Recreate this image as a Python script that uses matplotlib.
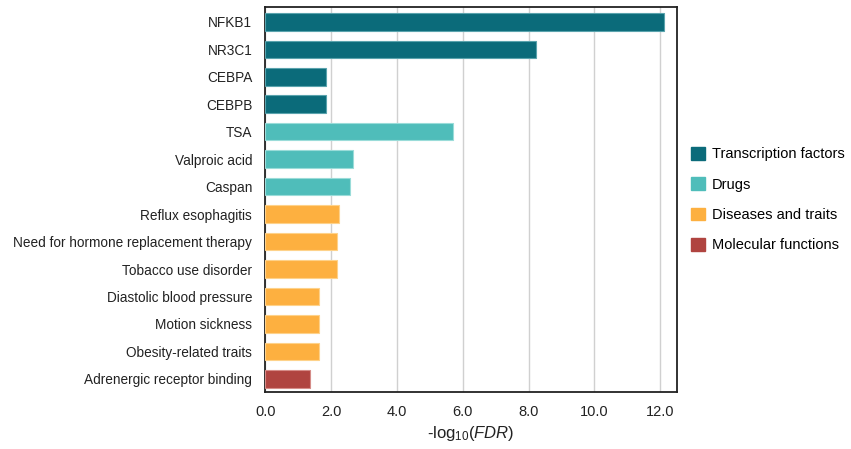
import matplotlib
matplotlib.use('Agg')
import matplotlib.pyplot as plt
from matplotlib.patches import Patch

plt.rcParams['font.family'] = ['Liberation Sans', 'DejaVu Sans']
plt.rcParams['mathtext.fontset'] = 'custom'
plt.rcParams['mathtext.rm'] = 'Liberation Sans'
plt.rcParams['mathtext.it'] = 'Liberation Sans:italic'

terms = ['NFKB1', 'NR3C1', 'CEBPA', 'CEBPB', 'TSA', 'Valproic acid', 'Caspan',
         'Reflux esophagitis', 'Need for hormone replacement therapy',
         'Tobacco use disorder', 'Diastolic blood pressure', 'Motion sickness',
         'Obesity-related traits', 'Adrenergic receptor binding']
values = [12.1, 8.22, 1.85, 1.85, 5.71, 2.67, 2.57,
          2.25, 2.18, 2.18, 1.63, 1.63, 1.63, 1.37]
groups = ['Transcription factors'] * 4 + ['Drugs'] * 3 + \
         ['Diseases and traits'] * 6 + ['Molecular functions']

group_names = ['Transcription factors', 'Drugs', 'Diseases and traits', 'Molecular functions']
group_colors = ['#0b6b7a', '#4fbdba', '#fdb040', '#b04440']
edge_colors = ['#5aa3ad', '#9adcd9', '#fed28a', '#d58c88']
cmap = dict(zip(group_names, group_colors))
emap = dict(zip(group_names, edge_colors))

fig = plt.figure(figsize=(8.51, 4.49), dpi=100)
ax = fig.add_axes([0.3118, 0.1263, 0.4834, 0.8574])

y = list(range(len(terms)))
ax.barh(y, values, height=0.64, color=[cmap[g] for g in groups],
        edgecolor=[emap[g] for g in groups], linewidth=0.8, zorder=3)

ax.set_ylim(13.49, -0.53)
ax.set_xlim(0, 12.5)
ax.set_yticks(y)
ax.set_yticklabels(terms, fontsize=9.85, color='#222222')
ax.set_xticks([0, 2, 4, 6, 8, 10, 12])
ax.set_xticklabels(['%.1f' % t for t in [0, 2, 4, 6, 8, 10, 12]], fontsize=10.5, color='#222222')
ax.tick_params(axis='y', length=0, pad=9.5)
ax.tick_params(axis='x', length=0, pad=9)
ax.grid(axis='x', color='#d0d0d0', linewidth=1, zorder=0)
for s in ax.spines.values():
    s.set_color('#222222')
    s.set_linewidth(1.3)

ax.set_xlabel(r'-log$_{10}$$\mathit{(FDR)}$', fontsize=12, color='#222222', labelpad=4)

handles = [Patch(facecolor=c, edgecolor=c, label=n) for n, c in zip(group_names, group_colors)]
ax.legend(handles=handles, loc='center left', bbox_to_anchor=(1.02, 0.5),
          frameon=False, fontsize=10.5, handlelength=0.95, handleheight=0.95,
          handletextpad=0.5, labelspacing=1.1, borderaxespad=0)

fig.savefig('out.png', dpi=100)
